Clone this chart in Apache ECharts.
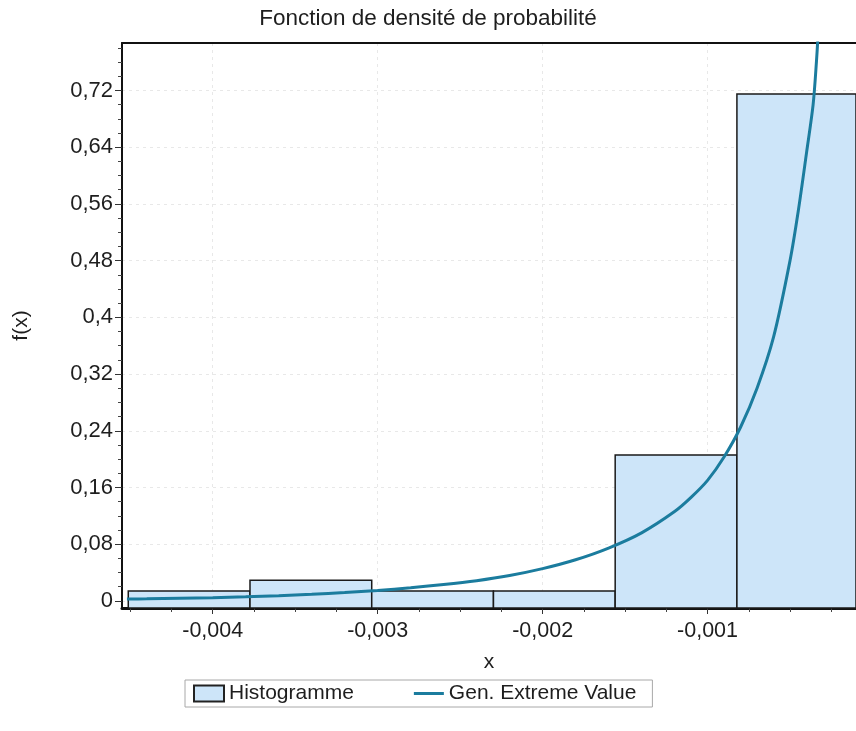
<!DOCTYPE html>
<html><head><meta charset="utf-8">
<script src="https://cdn.jsdelivr.net/npm/echarts@6/dist/echarts.min.js"></script>
<style>html,body{margin:0;padding:0;background:#fff}#c{width:856px;height:731px}</style>
</head><body><div id="c"></div>
<script>
// ---- data ----
const binEdges = [-0.004512, -0.003774, -0.003036, -0.002298, -0.00156, -0.000822, -0.000084];
const binValues = [0.014, 0.029, 0.014, 0.014, 0.206, 0.715];
const curveX = [-0.00452, -0.0044, -0.0042, -0.004, -0.0038, -0.0036, -0.0034, -0.0032, -0.003, -0.0028, -0.0026, -0.0024, -0.0022, -0.002, -0.0018, -0.0016, -0.0014, -0.0012, -0.0011, -0.001, -0.0009, -0.0008, -0.0007, -0.0006, -0.0005, -0.00045, -0.0004, -0.00036, -0.00034, -0.00033, -0.00032];
const curveY = [0.0027, 0.0030, 0.0037, 0.0046, 0.0058, 0.0074, 0.0094, 0.0118, 0.0148, 0.0185, 0.023, 0.0285, 0.0358, 0.0455, 0.058, 0.0745, 0.096, 0.126, 0.146, 0.17, 0.203, 0.245, 0.30, 0.372, 0.48, 0.55, 0.632, 0.70, 0.76, 0.80, 0.86];
const xTicks = [-0.004, -0.003, -0.002, -0.001];
const xMinorTicks = [-0.0045, -0.00425, -0.00375, -0.0035, -0.00325, -0.00275, -0.0025, -0.00225, -0.00175, -0.0015, -0.00125, -0.00075, -0.0005, -0.00025];
const yTicks = [0, 0.08, 0.16, 0.24, 0.32, 0.4, 0.48, 0.56, 0.64, 0.72];
const yMinorTicks = [0.02, 0.04, 0.06, 0.1, 0.12, 0.14, 0.18, 0.2, 0.22, 0.26, 0.28, 0.3, 0.34, 0.36, 0.38, 0.42, 0.44, 0.46, 0.5, 0.52, 0.54, 0.58, 0.6, 0.62, 0.66, 0.68, 0.7, 0.74, 0.76, 0.78];
const seriesNames = ['Histogramme', 'Gen. Extreme Value'];
const titleText = 'Fonction de densité de probabilité';
const xName = 'x';
const yName = 'f(x)';

const X_MIN = -0.00455, X_MAX = -0.0001, Y_MIN = -0.01, Y_MAX = 0.787;
const FONT = "'Liberation Sans', Arial, sans-serif";
const TXT = '#1e1e1e';
const LINE_COLOR = '#1b7c9e';
const BAR_COLOR = '#cde5f9';
const fmt = v => String(v).replace('.', ',');

const bins = binValues.map((v, i) => [binEdges[i], binEdges[i + 1], v]);
const curve = curveX.map((x, i) => [x, curveY[i]]);

const chart = echarts.init(document.getElementById('c'), null, {renderer: 'canvas'});
const baseX = {type: 'value', min: X_MIN, max: X_MAX, gridIndex: 0};
const baseY = {type: 'value', min: Y_MIN, max: Y_MAX, gridIndex: 0};
chart.setOption({
  animation: false,
  backgroundColor: '#fff',
  title: {text: titleText, left: 'center', top: 2,
    textStyle: {fontFamily: FONT, fontSize: 22.5, fontWeight: 'normal', color: TXT}},
  grid: {left: 122, right: 0, top: 43, bottom: 123, containLabel: false},
  xAxis: [
    Object.assign({}, baseX, {
      position: 'bottom', name: xName, nameLocation: 'middle', nameGap: 44,
      nameTextStyle: {fontFamily: FONT, fontSize: 21, color: TXT},
      axisLine: {show: true, onZero: false, lineStyle: {color: '#111', width: 3}},
      axisTick: {show: true, length: 6, customValues: xTicks, lineStyle: {color: '#333', width: 1}},
      axisLabel: {customValues: xTicks, formatter: fmt, margin: 12, fontFamily: FONT, fontSize: 21.5, color: TXT},
      splitLine: {show: true, lineStyle: {color: '#e8e8e8', type: [3, 4], width: 1}}
    }),
    Object.assign({}, baseX, {
      position: 'bottom',
      axisLine: {show: false, onZero: false},
      axisTick: {show: true, length: 4, customValues: xMinorTicks, lineStyle: {color: '#444', width: 1}},
      axisLabel: {show: false}, splitLine: {show: false}
    }),
    Object.assign({}, baseX, {
      position: 'top',
      axisLine: {show: true, onZero: false, lineStyle: {color: '#111', width: 2}},
      axisTick: {show: false}, axisLabel: {show: false}, splitLine: {show: false}
    })
  ],
  yAxis: [
    Object.assign({}, baseY, {
      position: 'left', name: yName, nameLocation: 'middle', nameGap: 90, nameRotate: 90,
      nameTextStyle: {fontFamily: FONT, fontSize: 21, color: TXT},
      axisLine: {show: true, onZero: false, lineStyle: {color: '#111', width: 2}},
      axisTick: {show: true, length: 7, customValues: yTicks, lineStyle: {color: '#333', width: 1}},
      axisLabel: {customValues: yTicks, formatter: fmt, margin: 9, fontFamily: FONT, fontSize: 22, color: TXT},
      splitLine: {show: true, lineStyle: {color: '#e8e8e8', type: [3, 4], width: 1}}
    }),
    Object.assign({}, baseY, {
      position: 'left',
      axisLine: {show: false, onZero: false},
      axisTick: {show: true, length: 4, customValues: yMinorTicks, lineStyle: {color: '#444', width: 1}},
      axisLabel: {show: false}, splitLine: {show: false}
    })
  ],
  legend: {
    left: 185, top: 680,
    data: [
      {name: seriesNames[0], icon: 'rect'},
      {name: seriesNames[1], icon: 'path://M0,0H100V10H0Z', itemStyle: {color: LINE_COLOR}}
    ],
    itemWidth: 30, itemHeight: 16, itemGap: 60,
    textStyle: {fontFamily: FONT, fontSize: 21, color: TXT},
    borderColor: '#a8a8a8', borderWidth: 1, borderRadius: 0, padding: [3, 16, 3, 8],
    backgroundColor: '#fff'
  },
  series: [
    {
      name: seriesNames[0], type: 'custom', xAxisIndex: 0, yAxisIndex: 0,
      itemStyle: {color: BAR_COLOR, borderColor: '#222', borderWidth: 1.5},
      encode: {x: [0, 1], y: 2},
      renderItem: function (params, api) {
        const p0 = api.coord([api.value(0), api.value(2)]);
        const p1 = api.coord([api.value(1), Y_MIN]);
        const cs = params.coordSys;
        const shape = echarts.graphic.clipRectByRect(
          {x: p0[0], y: p0[1], width: p1[0] - p0[0], height: p1[1] - p0[1]},
          {x: cs.x, y: cs.y, width: cs.width, height: cs.height});
        return shape && {type: 'rect', shape: shape,
          style: {fill: BAR_COLOR, stroke: '#1a1a1a', lineWidth: 1.5}};
      },
      data: bins, z: 2
    },
    {
      name: seriesNames[1], type: 'line', xAxisIndex: 0, yAxisIndex: 0,
      data: curve, symbol: 'none', smooth: 0.3, clip: true,
      lineStyle: {color: LINE_COLOR, width: 3}, itemStyle: {color: LINE_COLOR}, z: 3
    }
  ]
});
</script></body></html>
